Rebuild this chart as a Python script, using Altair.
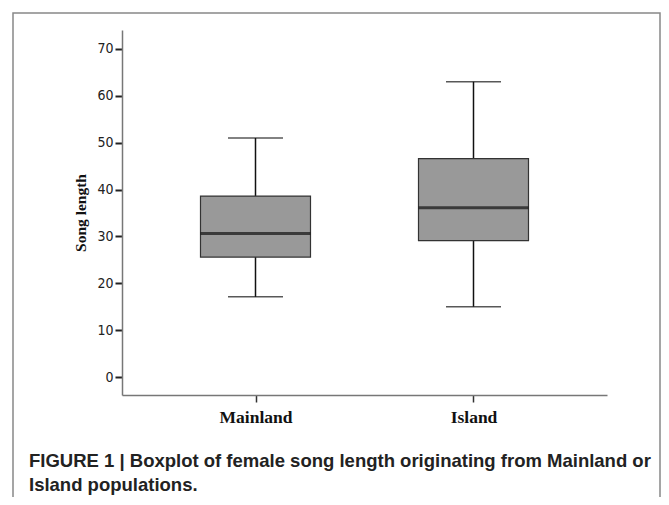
import altair as alt
import pandas as pd

groups = ["Mainland", "Island"]
lower = [17.1, 15.0]
q1 = [25.6, 29.1]
median = [30.6, 36.1]
q3 = [38.6, 46.6]
upper = [51.0, 63.0]

y_ticks = [0, 10, 20, 30, 40, 50, 60, 70]
y_title = "Song length"
caption = [
    "FIGURE 1 | Boxplot of female song length originating from Mainland or",
    "Island populations.",
]

df = pd.DataFrame({"group": groups, "lower": lower, "q1": q1,
                   "median": median, "q3": q3, "upper": upper})

xs = alt.Scale(type="point", domain=groups, padding=0.6124)
ys = alt.Scale(domain=[-3.84, 74.05], nice=False, zero=False)

x_enc = alt.X("group:N", scale=xs, sort=groups,
              axis=alt.Axis(title=None, labelAngle=0, labelFont="Liberation Serif",
                            labelFontWeight="bold", labelFontSize=17.5, labelColor="#111",
                            domainColor="#777", domainWidth=1.5, tickColor="#333",
                            tickWidth=1.5, tickSize=7, labelPadding=6))
y_axis = alt.Axis(values=y_ticks, title=y_title, titleFont="Liberation Serif",
                  titleFontWeight="bold", titleFontSize=15.5, titleColor="#111",
                  titlePadding=8,
                  labelFont="Liberation Sans Narrow, DejaVu Sans Condensed, Roboto, sans-serif",
                  labelFontSize=14, labelColor="#222", labelPadding=2,
                  domainColor="#777", domainWidth=1.5, tickColor="#222", tickSize=7,
                  tickWidth=2, grid=False)

base = alt.Chart(df)
one = base.transform_filter(alt.datum.group == "Mainland")

frame = one.mark_rect(filled=False, stroke="#888", strokeWidth=1.5, clip=False).encode(
    x=alt.value(-109), x2=alt.value(538), y=alt.value(-17), y2=alt.value(700)
)

cap1 = one.mark_text(align="left", baseline="middle", font="Liberation Sans",
                     fontWeight="bold", fontSize=18.5, color="#222", clip=False).encode(
    x=alt.value(-93), y=alt.value(431), text=alt.value(caption[0]))
cap2 = one.mark_text(align="left", baseline="middle", font="Liberation Sans",
                     fontWeight="bold", fontSize=18.5, color="#222", clip=False).encode(
    x=alt.value(-93), y=alt.value(455), text=alt.value(caption[1]))

whisk_lo = base.mark_rule(color="#111", strokeWidth=1.5).encode(
    x=x_enc, y=alt.Y("lower:Q", scale=ys, axis=y_axis), y2="q1:Q")
whisk_hi = base.mark_rule(color="#111", strokeWidth=1.5).encode(
    x=x_enc, y=alt.Y("q3:Q", scale=ys, axis=y_axis), y2="upper:Q")
box = base.mark_bar(size=110, fill="#999999", stroke="#333", strokeWidth=1.2).encode(
    x=x_enc, y=alt.Y("q1:Q", scale=ys, axis=y_axis), y2="q3:Q")
med = base.mark_tick(size=110, thickness=3, color="#111", orient="horizontal").encode(
    x=x_enc, y=alt.Y("median:Q", scale=ys, axis=y_axis))
cap_lo = base.mark_tick(size=55, thickness=1.5, color="#111", orient="horizontal").encode(
    x=x_enc, y=alt.Y("lower:Q", scale=ys, axis=y_axis))
cap_hi = base.mark_tick(size=55, thickness=1.5, color="#111", orient="horizontal").encode(
    x=x_enc, y=alt.Y("upper:Q", scale=ys, axis=y_axis))

chart = alt.layer(frame, whisk_lo, whisk_hi, box, med, cap_lo, cap_hi, cap1, cap2).properties(
    width=485, height=365,
    background="white",
    autosize=alt.AutoSizeParams(type="none"),
    padding={"left": 114, "top": 22, "right": 54, "bottom": 102},
).configure_view(strokeWidth=0, stroke="transparent")

chart.save("out.html", embed_options={"renderer": "svg", "actions": False})
